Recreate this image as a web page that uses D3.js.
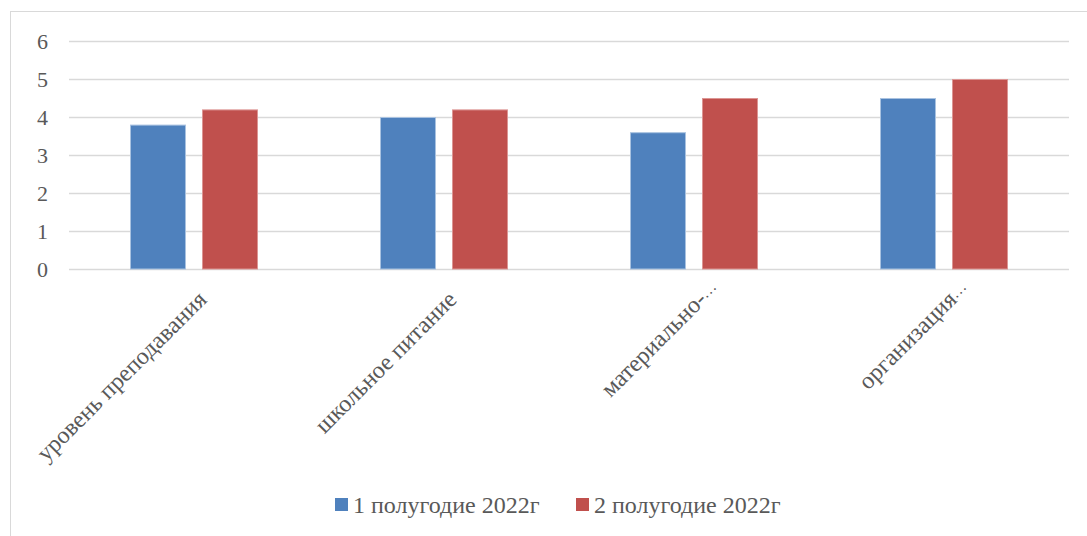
<!DOCTYPE html>
<html><head><meta charset="utf-8">
<script src="https://cdn.jsdelivr.net/npm/d3@7"></script>
<style>body{margin:0;background:#fff}</style>
</head><body><svg id="c" width="1087" height="536"></svg>
<script>
const categories = ["уровень преподавания","школьное питание","материально-…","организация…"];
const seriesNames = ["1 полугодие 2022г","2 полугодие 2022г"];
const series1 = [3.8, 4.0, 3.6, 4.5];
const series2 = [4.2, 4.2, 4.5, 5.0];
const yTicks = [0,1,2,3,4,5,6];
const colors = ["#4f81bd","#c0504d"];
const strokes = ["#a9c2e0","#dc9593"];
const FONT = '"Liberation Serif", "Times New Roman", serif';

const svg = d3.select("#c");
svg.append("rect").attr("x",10.5).attr("y",11.5).attr("width",1200).attr("height",700)
  .attr("fill","#fff").attr("stroke","#d9d9d9");

const x = d3.scaleBand().domain(categories).range([69,1069]);
const y = d3.scaleLinear().domain([0,6]).range([269,41]);
const xs = d3.scaleBand().domain([0,1]).range([0, 128]).paddingInner(16/72);

svg.append("g").selectAll("line").data(yTicks).join("line")
  .attr("x1",69).attr("x2",1069).attr("y1",d=>Math.round(y(d))+0.5).attr("y2",d=>Math.round(y(d))+0.5)
  .attr("stroke","#d9d9d9").attr("stroke-width",1.3);

svg.append("g").selectAll("text").data(yTicks).join("text")
  .attr("x",48).attr("y",d=>y(d)).attr("dy","0.35em").attr("text-anchor","end")
  .style("font-family",FONT).style("font-size","22px").attr("fill","#595959").text(d=>d);

const data = categories.map((c,i)=>({c, vals:[series1[i],series2[i]]}));
const g = svg.append("g").selectAll("g").data(data).join("g")
  .attr("transform",d=>`translate(${x(d.c)+x.bandwidth()/2-64},0)`);
g.selectAll("rect").data(d=>d.vals.map((v,k)=>({v,k}))).join("rect")
  .attr("x",d=>xs(d.k)+0.5).attr("width",xs.bandwidth()-1)
  .attr("y",d=>y(d.v)+0.5).attr("height",d=>y(0)-y(d.v)-0.5)
  .attr("fill",d=>colors[d.k]).attr("stroke",d=>strokes[d.k]).attr("stroke-width",1);

const lab = svg.append("g").selectAll("g").data(categories).join("g")
  .attr("transform",d=>`translate(${x(d)+x.bandwidth()/2+8},${295}) rotate(-45)`);
lab.append("text").attr("text-anchor","end").attr("dy","0.35em")
  .style("font-family",FONT).style("font-size","24px").attr("fill","#595959")
  .text(d=>d.replace(/…$/,""));
lab.filter(d=>d.endsWith("…")).append("text").attr("text-anchor","start").attr("dy","0.35em").attr("x",0)
  .style("font-family",FONT).style("font-size","16px").attr("fill","#595959").text("…");

const leg = [{x:335,k:0},{x:576,k:1}];
const lg = svg.append("g").selectAll("g").data(leg).join("g");
lg.append("rect").attr("x",d=>d.x).attr("y",498).attr("width",13).attr("height",13).attr("fill",d=>colors[d.k]);
lg.append("text").attr("x",d=>d.x+18).attr("y",513).style("font-family",FONT).style("font-size","24px").attr("fill","#595959").text(d=>seriesNames[d.k]);
</script></body></html>
